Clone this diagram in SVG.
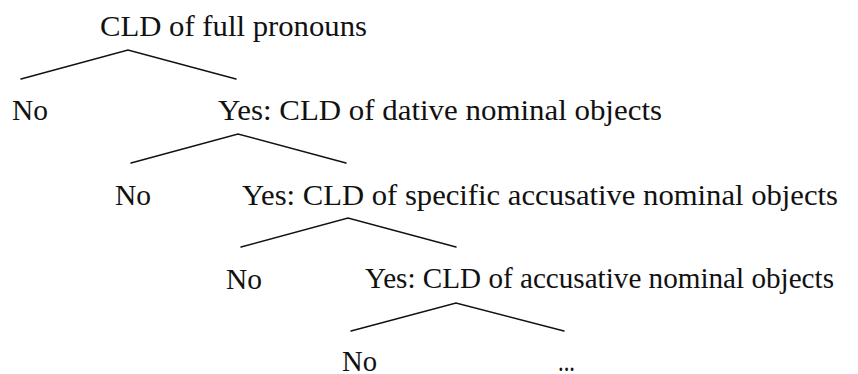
<svg xmlns="http://www.w3.org/2000/svg" width="858" height="374" viewBox="0 0 858 374">
  <style>
    .lbl { font-family: "Liberation Serif", "Times New Roman", serif; font-size: 28.5px; fill: #111; }
    .edge { stroke: #111; stroke-width: 1.4; fill: none; stroke-linecap: round; stroke-linejoin: miter; }
  </style>
  <rect width="858" height="374" fill="#fff"/>

  <!-- branching connectors -->
  <g id="connectors">
    <polyline class="edge" points="21,79 128,50 236,79"/>
    <polyline class="edge" points="131,163 238,134 346,163"/>
    <polyline class="edge" points="241,247 348,218 456,247"/>
    <polyline class="edge" points="351,331 456,303 564,331"/>
  </g>

  <g id="root">
    <text class="lbl" x="100" y="36" textLength="267" lengthAdjust="spacingAndGlyphs">CLD of full pronouns</text>
  </g>
  <g id="no-1">
    <text class="lbl" x="12" y="120" textLength="36" lengthAdjust="spacingAndGlyphs">No</text>
  </g>
  <g id="yes-dative">
    <text class="lbl" x="218" y="120" textLength="444" lengthAdjust="spacingAndGlyphs">Yes: CLD of dative nominal objects</text>
  </g>
  <g id="no-2">
    <text class="lbl" x="115" y="205" textLength="36" lengthAdjust="spacingAndGlyphs">No</text>
  </g>
  <g id="yes-specific">
    <text class="lbl" x="242" y="205" textLength="596" lengthAdjust="spacingAndGlyphs">Yes: CLD of specific accusative nominal objects</text>
  </g>
  <g id="no-3">
    <text class="lbl" x="226" y="289" textLength="36" lengthAdjust="spacingAndGlyphs">No</text>
  </g>
  <g id="yes-accusative">
    <text class="lbl" x="365" y="288" textLength="469" lengthAdjust="spacingAndGlyphs">Yes: CLD of accusative nominal objects</text>
  </g>
  <g id="no-4">
    <text class="lbl" x="342" y="371" textLength="35" lengthAdjust="spacingAndGlyphs">No</text>
  </g>
  <g id="ellipsis">
    <text class="lbl" x="558" y="371" textLength="17" lengthAdjust="spacingAndGlyphs">...</text>
  </g>
</svg>
